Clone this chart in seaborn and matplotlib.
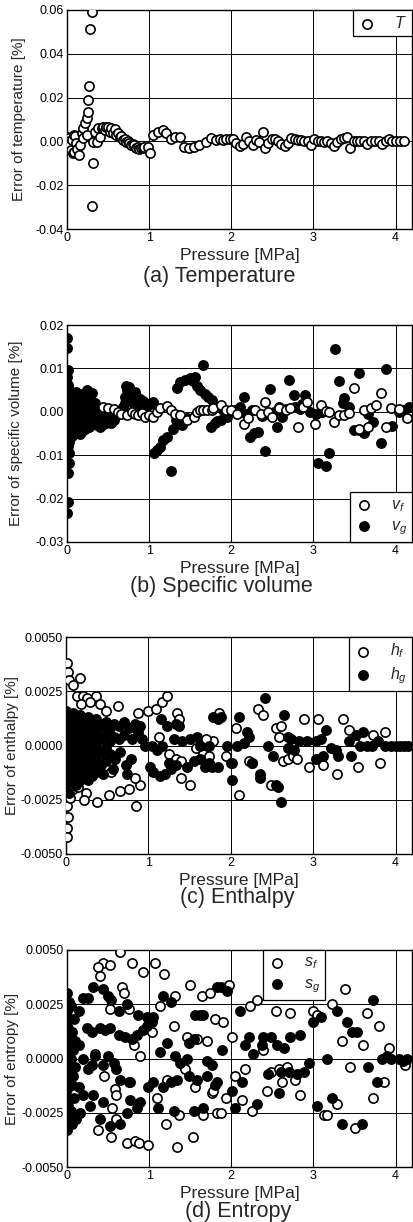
import matplotlib
matplotlib.use("Agg")
import matplotlib.pyplot as plt
import seaborn as sns

# (pressure [MPa], error [%])

temp_pts = [
    (0.00, 0.0020), (0.01, -0.0030), (0.02, 0.0014), (0.03, 0.0000), (0.04, -0.0017),
    (0.05, -0.0040), (0.06, 0.0007), (0.07, -0.0055), (0.08, 0.0029), (0.09, -0.0047),
    (0.10, 0.0025), (0.11, -0.0009), (0.12, -0.0035), (0.14, -0.0060), (0.16, -0.0017),
    (0.18, 0.0037), (0.20, 0.0014), (0.20, 0.0060), (0.22, 0.0082), (0.24, 0.0105),
    (0.24, 0.0029), (0.25, 0.0189), (0.26, 0.0135), (0.27, 0.0253), (0.28, 0.0513),
    (0.30, 0.0593), (0.31, -0.0293), (0.32, -0.0099), (0.32, -0.0002), (0.34, 0.0044),
    (0.36, -0.0002), (0.38, 0.0059), (0.40, 0.0022), (0.42, 0.0059), (0.44, 0.0065),
    (0.46, 0.0052), (0.48, 0.0068), (0.50, 0.0066), (0.52, 0.0044), (0.54, 0.0062),
    (0.56, 0.0037), (0.58, 0.0055), (0.60, 0.0029), (0.62, 0.0040), (0.64, 0.0022),
    (0.66, 0.0025), (0.68, 0.0007), (0.70, 0.0010), (0.72, -0.0002), (0.74, 0.0000),
    (0.76, -0.0009), (0.78, -0.0015), (0.80, -0.0010), (0.82, -0.0017), (0.84, -0.0028),
    (0.86, -0.0024), (0.88, -0.0035), (0.90, -0.0032), (0.92, -0.0030), (0.94, -0.0025),
    (0.99, -0.0024), (1.01, -0.0055), (1.05, 0.0029), (1.11, 0.0044), (1.17, 0.0052),
    (1.21, 0.0037), (1.26, 0.0010), (1.31, 0.0022), (1.37, 0.0022), (1.43, -0.0024),
    (1.49, -0.0032), (1.55, -0.0024), (1.61, -0.0017), (1.69, -0.0002), (1.75, 0.0014),
    (1.81, 0.0007), (1.86, 0.0010), (1.90, 0.0008), (1.94, 0.0010), (1.98, 0.0012),
    (2.02, 0.0010), (2.06, -0.0008), (2.10, -0.0020), (2.14, -0.0010), (2.18, 0.0020),
    (2.22, 0.0000), (2.26, -0.0018), (2.30, 0.0008), (2.34, -0.0005), (2.38, 0.0045),
    (2.41, -0.0030), (2.45, -0.0008), (2.49, 0.0010), (2.53, 0.0012), (2.57, 0.0002),
    (2.61, -0.0010), (2.65, -0.0020), (2.69, -0.0008), (2.73, 0.0015), (2.77, 0.0010),
    (2.81, 0.0005), (2.85, 0.0008), (2.89, 0.0003), (2.93, 0.0002), (2.97, -0.0018),
    (3.01, 0.0012), (3.05, 0.0003), (3.09, 0.0000), (3.13, -0.0005), (3.17, 0.0002),
    (3.21, -0.0008), (3.25, -0.0020), (3.29, -0.0002), (3.33, 0.0010), (3.37, 0.0015),
    (3.41, 0.0020), (3.45, -0.0030), (3.49, 0.0002), (3.53, 0.0003), (3.57, 0.0002),
    (3.61, 0.0003), (3.65, -0.0012), (3.70, 0.0000), (3.75, 0.0002), (3.80, 0.0001),
    (3.84, -0.0010), (3.88, 0.0002), (3.92, 0.0010), (3.96, 0.0000), (4.00, 0.0000),
    (4.05, 0.0001), (4.10, 0.0000),
]

vf_pts = [
    (0.44, 0.0010), (0.50, 0.0008), (0.57, 0.0006), (0.62, 0.0000), (0.66, -0.0004),
    (0.73, -0.0007), (0.79, 0.0000), (0.83, -0.0005), (0.87, -0.0007), (0.91, -0.0003),
    (0.95, -0.0011), (1.00, -0.0008), (1.05, -0.0011), (1.09, 0.0000), (1.13, 0.0008),
    (1.22, 0.0013), (1.26, 0.0004), (1.32, -0.0004), (1.38, -0.0007), (1.46, -0.0019),
    (1.54, -0.0011), (1.58, 0.0000), (1.62, 0.0004), (1.66, 0.0004), (1.70, 0.0004),
    (1.76, 0.0004), (1.78, 0.0008), (1.87, 0.0016), (1.93, 0.0004), (2.00, 0.0005),
    (2.07, -0.0004), (2.15, -0.0027), (2.20, -0.0015), (2.29, 0.0004), (2.36, -0.0004),
    (2.41, 0.0023), (2.45, 0.0000), (2.50, -0.0011), (2.58, 0.0008), (2.66, 0.0004),
    (2.72, 0.0008), (2.81, -0.0034), (2.87, 0.0010), (2.92, 0.0023), (3.02, -0.0027),
    (3.09, 0.0016), (3.15, 0.0002), (3.19, 0.0000), (3.25, -0.0023), (3.31, -0.0008),
    (3.37, -0.0008), (3.43, -0.0002), (3.49, 0.0054), (3.55, -0.0040), (3.61, 0.0004),
    (3.66, -0.0036), (3.70, 0.0008), (3.76, 0.0016), (3.82, 0.0043), (3.88, -0.0034),
    (3.94, 0.0008), (4.04, 0.0006), (4.14, -0.0015),
]

vg_pts = [
    (0.00, 0.0170), (0.00, 0.0147), (0.01, 0.0096), (0.00, 0.0080), (0.01, 0.0062),
    (0.00, 0.0045), (0.01, 0.0028), (0.00, 0.0010), (0.01, -0.0008), (0.00, -0.0025),
    (0.01, -0.0043), (0.00, -0.0060), (0.01, -0.0078), (0.02, -0.0095), (0.03, -0.0118),
    (0.01, -0.0141), (0.01, -0.0207), (0.00, -0.0233), (0.04, 0.0040), (0.05, 0.0020),
    (0.05, 0.0000), (0.04, -0.0020), (0.05, -0.0040), (0.06, -0.0055), (0.08, 0.0030),
    (0.09, 0.0010), (0.09, -0.0010), (0.10, -0.0030), (0.11, 0.0045), (0.12, -0.0045),
    (0.14, 0.0025), (0.15, 0.0005), (0.15, -0.0015), (0.16, -0.0052), (0.17, -0.0030),
    (0.18, 0.0040), (0.19, 0.0015), (0.21, -0.0005), (0.22, -0.0020), (0.22, -0.0040),
    (0.24, 0.0050), (0.24, 0.0030), (0.25, 0.0005), (0.26, -0.0015), (0.28, 0.0020),
    (0.29, -0.0025), (0.30, 0.0044), (0.31, 0.0010), (0.32, -0.0005), (0.34, 0.0020),
    (0.35, -0.0020), (0.37, -0.0030), (0.38, 0.0005), (0.40, -0.0034), (0.42, -0.0010),
    (0.45, 0.0000), (0.48, -0.0025), (0.52, -0.0015), (0.55, 0.0005), (0.58, -0.0010),
    (0.62, -0.0005), (0.65, -0.0003), (0.68, 0.0010), (0.71, 0.0034), (0.73, 0.0050),
    (0.75, 0.0057), (0.77, 0.0045), (0.79, 0.0046), (0.82, 0.0030), (0.85, 0.0034),
    (0.88, 0.0025), (0.91, 0.0019), (0.95, 0.0020), (0.98, 0.0015), (1.01, 0.0019),
    (0.03, 0.0030), (0.06, 0.0035), (0.07, 0.0015), (0.07, -0.0030), (0.10, 0.0000),
    (0.12, 0.0020), (0.13, -0.0020), (0.14, 0.0040), (0.17, 0.0030), (0.18, -0.0045),
    (0.20, 0.0025), (0.20, -0.0010), (0.23, 0.0010), (0.26, 0.0030), (0.27, -0.0035),
    (0.30, -0.0010), (0.33, 0.0000), (0.36, -0.0025), (0.39, -0.0015), (0.43, -0.0030),
    (0.46, -0.0020), (0.50, -0.0005), (0.54, -0.0025), (0.57, -0.0018), (0.60, 0.0000),
    (0.03, -0.0010), (0.02, 0.0050), (0.02, -0.0050), (0.03, -0.0070), (0.00, 0.0095),
    (0.72, 0.0060), (0.76, 0.0040), (0.80, 0.0020), (0.83, 0.0045), (0.86, 0.0015),
    (0.89, 0.0030), (0.93, 0.0025), (0.70, 0.0020),
    (1.05, 0.0023), (1.06, -0.0095), (1.10, -0.0088), (1.13, -0.0080), (1.17, -0.0065),
    (1.22, -0.0057), (1.26, -0.0136), (1.29, -0.0040), (1.33, -0.0020), (1.37, -0.0010),
    (1.40, -0.0030), (1.34, 0.0055), (1.38, 0.0068), (1.44, 0.0073), (1.46, -0.0015),
    (1.50, 0.0078), (1.53, 0.0070), (1.56, 0.0081), (1.58, 0.0060), (1.62, 0.0050),
    (1.66, 0.0108), (1.68, 0.0042), (1.72, 0.0035), (1.75, -0.0035), (1.76, 0.0028),
    (1.80, -0.0026), (1.83, -0.0022), (1.87, -0.0019), (1.90, 0.0005), (1.95, -0.0012),
    (2.00, 0.0000), (2.05, 0.0005), (2.11, 0.0012), (2.15, 0.0035), (2.18, -0.0005),
    (2.23, -0.0057), (2.25, 0.0005), (2.28, -0.0050), (2.33, -0.0047), (2.37, -0.0010),
    (2.41, -0.0090), (2.45, -0.0005), (2.47, 0.0052), (2.52, 0.0000), (2.56, -0.0034),
    (2.58, 0.0010), (2.62, -0.0011), (2.66, 0.0007), (2.70, 0.0073), (2.76, 0.0038),
    (2.78, 0.0012), (2.84, 0.0007), (2.86, 0.0018), (2.90, 0.0038), (2.96, 0.0000),
    (3.03, -0.0004), (3.06, -0.0119), (3.10, 0.0000), (3.15, -0.0126), (3.19, -0.0096),
    (3.26, 0.0144), (3.31, 0.0070), (3.36, 0.0020), (3.37, 0.0031), (3.43, 0.0012),
    (3.49, -0.0042), (3.55, -0.0042), (3.55, 0.0089), (3.61, -0.0050), (3.66, -0.0005),
    (3.73, -0.0023), (3.82, -0.0071), (3.88, 0.0098), (3.96, -0.0033), (4.04, 0.0000),
    (4.10, 0.0005), (4.16, 0.0012),
]

hf_pts = [
    (0.01, 0.0038), (0.02, 0.0034), (0.04, 0.0030), (0.17, 0.0031), (0.09, 0.0028),
    (0.13, 0.0023), (0.21, 0.0023), (0.25, 0.0022), (0.37, 0.0023), (0.18, 0.0019),
    (0.29, 0.0020), (0.41, 0.0019), (0.49, 0.0016), (0.63, 0.0018), (0.88, 0.0015),
    (1.00, 0.0016), (1.09, 0.0017), (1.17, 0.0020), (1.23, 0.0023), (1.35, 0.0015),
    (1.37, 0.0012), (1.13, 0.0004), (1.25, -0.0004), (1.33, -0.0006), (1.39, -0.0007),
    (1.39, -0.0015), (1.50, -0.0018), (1.58, -0.0001), (1.66, -0.0004), (1.78, 0.0002),
    (0.01, -0.0028), (0.02, -0.0033), (0.01, -0.0038), (0.01, -0.0042), (0.05, -0.0024),
    (0.09, -0.0020), (0.15, -0.0019), (0.24, -0.0022), (0.22, -0.0025), (0.38, -0.0026),
    (0.52, -0.0023), (0.66, -0.0021), (0.76, -0.0020), (0.90, -0.0018), (0.85, -0.0028),
    (0.84, -0.0015), (0.55, -0.0012), (0.41, -0.0007), (0.22, 0.0006), (0.39, 0.0005),
    (1.86, 0.0015), (2.06, 0.0008), (2.33, 0.0017), (2.39, 0.0014), (2.10, -0.0023),
    (2.55, 0.0008), (2.61, 0.0009), (2.59, 0.0004), (2.89, 0.0012), (3.06, 0.0012),
    (3.36, 0.0012), (3.43, 0.0007), (3.50, 0.0002), (3.73, 0.0005), (3.87, 0.0006),
    (2.95, -0.0010), (3.12, -0.0009), (3.29, -0.0013), (3.54, -0.0010), (3.81, -0.0008),
    (2.64, -0.0007), (2.69, -0.0006), (2.75, -0.0005), (2.81, -0.0006), (1.70, 0.0003),
    (1.74, -0.0005), (1.94, -0.0005), (2.02, -0.0008), (2.22, -0.0007), (2.26, -0.0008),
    (2.49, -0.0018),
]

hg_pts = [
    (0.00, 0.0016), (0.00, 0.0010), (0.00, 0.0004), (0.00, -0.0002), (0.00, -0.0008),
    (0.00, -0.0014), (0.00, -0.0020), (0.04, 0.0013), (0.04, 0.0007), (0.04, 0.0001),
    (0.04, -0.0005), (0.04, -0.0011), (0.04, -0.0017), (0.04, -0.0022), (0.08, 0.0015),
    (0.08, 0.0009), (0.08, 0.0003), (0.08, -0.0003), (0.08, -0.0009), (0.08, -0.0015),
    (0.12, 0.0012), (0.12, 0.0006), (0.12, 0.0000), (0.12, -0.0006), (0.12, -0.0012),
    (0.12, -0.0018), (0.17, 0.0014), (0.17, 0.0008), (0.17, 0.0002), (0.17, -0.0004),
    (0.17, -0.0010), (0.17, -0.0016), (0.22, 0.0011), (0.22, 0.0005), (0.22, -0.0001),
    (0.22, -0.0007), (0.22, -0.0013), (0.27, 0.0013), (0.27, 0.0007), (0.27, 0.0001),
    (0.27, -0.0005), (0.27, -0.0011), (0.27, -0.0016), (0.32, 0.0010), (0.32, 0.0004),
    (0.32, -0.0002), (0.32, -0.0008), (0.32, -0.0014), (0.37, 0.0012), (0.37, 0.0006),
    (0.37, 0.0000), (0.37, -0.0006), (0.37, -0.0012), (0.42, 0.0009), (0.42, 0.0003),
    (0.42, -0.0003), (0.42, -0.0009), (0.45, -0.0013), (0.48, 0.0011), (0.48, 0.0005),
    (0.48, -0.0001), (0.48, -0.0007), (0.53, 0.0008), (0.53, 0.0002), (0.53, -0.0004),
    (0.57, -0.0011), (0.58, 0.0010), (0.58, 0.0004), (0.60, -0.0006), (0.64, 0.0009),
    (0.64, 0.0003), (0.66, -0.0003), (0.70, 0.0011), (0.70, 0.0005), (0.73, -0.0009),
    (0.74, -0.0013), (0.76, 0.0008), (0.79, -0.0006), (0.80, 0.0003), (0.84, 0.0010),
    (0.88, 0.0006), (0.90, 0.0009), (0.92, 0.0003), (0.96, 0.0000), (1.02, -0.0010),
    (1.06, -0.0012), (1.14, -0.0014), (1.04, 0.0000), (1.10, -0.0002), (1.17, 0.0000),
    (1.15, 0.0012), (1.23, 0.0009), (1.33, 0.0010), (1.37, 0.0009), (1.20, -0.0013),
    (1.27, -0.0011), (1.31, 0.0003), (1.41, 0.0002), (1.51, 0.0003), (1.59, 0.0004),
    (1.25, -0.0008), (1.33, -0.0009), (1.47, -0.0010), (1.55, -0.0007), (1.63, -0.0006),
    (1.69, -0.0010), (1.74, -0.0008), (1.77, -0.0010), (1.84, -0.0010), (1.78, 0.0013),
    (1.84, 0.0012), (1.88, 0.0013), (1.63, 0.0000), (1.74, 0.0000), (1.96, 0.0000),
    (2.00, -0.0008), (2.01, -0.0016), (2.10, 0.0013), (2.08, 0.0000), (2.16, 0.0001),
    (2.20, 0.0006), (2.22, 0.0004), (2.26, -0.0008), (2.35, -0.0013), (2.36, -0.0015),
    (2.41, 0.0022), (2.45, 0.0000), (2.51, -0.0005), (2.55, -0.0018), (2.57, -0.0019),
    (2.61, -0.0026), (2.65, 0.0014), (2.69, 0.0004), (2.69, -0.0001), (2.77, -0.0002),
    (2.73, 0.0003), (2.83, 0.0002), (2.93, 0.0002), (3.04, 0.0002), (3.10, 0.0003),
    (3.04, -0.0006), (3.12, -0.0005), (3.16, 0.0007), (3.22, -0.0001), (3.28, -0.0002),
    (3.30, -0.0005), (3.44, 0.0002), (3.46, -0.0005), (3.52, 0.0005), (3.61, 0.0006),
    (3.57, 0.0000), (3.65, 0.0000), (3.71, 0.0000), (3.79, 0.0002), (3.87, 0.0000),
    (3.95, 0.0000), (4.00, 0.0000), (4.05, 0.0000), (4.10, 0.0000), (4.15, 0.0000),
]

sf_pts = [
    (0.65, 0.0049), (0.44, 0.0044), (0.38, 0.0042), (0.52, 0.0043), (0.40, 0.0038),
    (0.79, 0.0044), (0.92, 0.0040), (1.07, 0.0044), (1.18, 0.0039), (0.67, 0.0033),
    (0.69, 0.0030), (0.52, 0.0023), (0.75, 0.0023), (1.13, 0.0024), (1.32, 0.0029),
    (1.50, 0.0034), (1.64, 0.0029), (1.74, 0.0030), (0.81, 0.0006), (0.89, 0.0001),
    (1.03, 0.0012), (1.30, 0.0015), (1.46, 0.0010), (1.58, 0.0009), (1.80, 0.0018),
    (0.34, 0.0002), (0.45, -0.0008), (0.59, -0.0014), (0.77, -0.0011), (0.60, -0.0017),
    (0.55, -0.0023), (0.60, -0.0028), (0.38, -0.0033), (0.54, -0.0036), (0.73, -0.0039),
    (0.83, -0.0038), (0.88, -0.0039), (0.99, -0.0040), (1.09, -0.0018), (1.22, -0.0010),
    (1.21, -0.0030), (1.36, -0.0026), (1.53, -0.0036), (1.34, -0.0041), (1.56, -0.0013),
    (1.76, -0.0016), (1.66, -0.0026), (1.83, -0.0025), (1.44, -0.0005), (1.97, 0.0034),
    (1.90, 0.0017), (2.01, 0.0010), (2.23, 0.0024), (2.31, 0.0027), (2.54, 0.0022),
    (2.72, 0.0021), (3.00, 0.0022), (3.04, 0.0020), (3.23, 0.0025), (3.39, 0.0032),
    (3.65, 0.0021), (3.80, 0.0015), (3.35, 0.0008), (3.60, 0.0006), (3.92, 0.0005),
    (2.39, 0.0004), (1.70, 0.0008), (3.45, -0.0004), (4.12, -0.0003), (2.05, -0.0008),
    (2.17, -0.0005), (2.48, -0.0006), (2.58, -0.0005), (2.68, -0.0004), (2.62, -0.0011),
    (2.78, -0.0010), (2.84, -0.0017), (2.43, -0.0015), (1.78, -0.0015), (1.93, -0.0018),
    (2.13, -0.0019), (1.87, -0.0025), (2.25, -0.0024), (3.13, -0.0026), (3.17, -0.0026),
    (3.29, -0.0021), (3.72, -0.0018), (3.86, -0.0011), (3.51, -0.0032),
]

sg_pts = [
    (0.00, 0.0030), (0.02, 0.0026), (0.00, 0.0022), (0.03, 0.0018), (0.01, 0.0014),
    (0.00, 0.0010), (0.03, 0.0006), (0.01, 0.0002), (0.00, -0.0002), (0.03, -0.0006),
    (0.01, -0.0010), (0.00, -0.0014), (0.03, -0.0018), (0.01, -0.0022), (0.00, -0.0026),
    (0.02, -0.0030), (0.00, -0.0033), (0.05, 0.0024), (0.06, 0.0012), (0.05, 0.0000),
    (0.06, -0.0012), (0.05, -0.0024), (0.07, 0.0004), (0.07, -0.0008), (0.06, -0.0030),
    (0.08, 0.0018), (0.09, -0.0018), (0.10, 0.0008), (0.10, -0.0004), (0.11, -0.0028),
    (0.15, 0.0022), (0.20, 0.0028), (0.26, 0.0028), (0.32, 0.0033), (0.44, 0.0032),
    (0.50, 0.0029), (0.53, 0.0027), (0.63, 0.0022), (0.73, 0.0025), (0.87, 0.0020),
    (0.97, 0.0019), (1.05, 0.0019), (1.17, 0.0029), (1.26, 0.0026), (1.56, 0.0020),
    (1.62, 0.0020), (1.83, 0.0033), (0.15, 0.0006), (0.20, 0.0000), (0.24, 0.0014),
    (0.30, 0.0012), (0.40, 0.0014), (0.46, 0.0013), (0.52, 0.0014), (0.63, 0.0011),
    (0.70, 0.0010), (0.79, 0.0009), (0.85, 0.0011), (0.93, 0.0013), (0.97, 0.0015),
    (1.03, 0.0017), (1.13, 0.0003), (1.22, 0.0007), (1.32, 0.0001), (1.38, -0.0002),
    (1.46, 0.0000), (1.48, 0.0007), (1.54, 0.0009), (1.70, -0.0001), (1.76, -0.0003),
    (0.34, 0.0001), (0.50, 0.0001), (0.57, -0.0002), (0.44, -0.0003), (0.25, -0.0005),
    (0.30, -0.0003), (0.60, -0.0005), (0.14, -0.0013), (0.20, -0.0017), (0.32, -0.0017),
    (0.44, -0.0020), (0.65, -0.0010), (0.75, -0.0011), (0.77, -0.0019), (0.89, -0.0020),
    (0.99, -0.0013), (1.05, -0.0011), (0.40, -0.0028), (0.52, -0.0031), (0.65, -0.0030),
    (0.73, -0.0025), (0.85, -0.0023), (1.11, -0.0023), (1.30, -0.0024), (1.54, -0.0024),
    (1.66, -0.0023), (1.17, -0.0013), (1.26, -0.0011), (1.34, -0.0010), (1.48, -0.0008),
    (1.58, -0.0010), (1.70, -0.0008), (1.82, -0.0011), (0.16, -0.0025), (0.28, -0.0022),
    (1.66, 0.0020), (1.87, 0.0033), (1.95, 0.0031), (1.89, 0.0004), (2.10, 0.0022),
    (2.21, 0.0010), (2.17, 0.0006), (2.27, 0.0002), (2.37, 0.0006), (2.39, 0.0010),
    (2.48, 0.0010), (2.56, 0.0006), (2.64, 0.0005), (2.72, 0.0010), (2.84, 0.0011),
    (2.45, -0.0007), (2.60, -0.0006), (2.70, -0.0006), (2.80, -0.0007), (2.88, -0.0006),
    (2.94, -0.0002), (2.58, -0.0016), (2.31, -0.0021), (1.80, -0.0012), (2.01, -0.0015),
    (2.05, -0.0023), (2.13, -0.0011), (3.00, 0.0017), (3.09, 0.0019), (3.29, 0.0022),
    (3.17, 0.0000), (3.04, -0.0022), (3.23, -0.0018), (3.35, -0.0030), (3.41, 0.0017),
    (3.47, 0.0012), (3.53, 0.0012), (3.72, 0.0027), (3.66, -0.0004), (3.78, -0.0011),
    (3.59, -0.0030), (3.84, 0.0000), (3.90, 0.0001), (3.94, 0.0000), (4.04, 0.0000),
    (4.09, -0.0001), (4.14, 0.0000),
]

sns.set_style("ticks")
plt.rcParams["font.family"] = ["Liberation Sans", "DejaVu Sans"]
plt.rcParams["mathtext.fontset"] = "custom"
plt.rcParams["mathtext.it"] = "Liberation Sans:italic"
plt.rcParams["mathtext.rm"] = "Liberation Sans"

W, H = 413, 1222
fig = plt.figure(figsize=(W / 100, H / 100), dpi=100)


def add_panel(left, top, right, bottom):
    return fig.add_axes([left / W, 1 - bottom / H, (right - left) / W, (bottom - top) / H])


def dots(ax, pts, filled, label):
    xs = [p for p, _ in pts]
    ys = [e for _, e in pts]
    sns.scatterplot(x=xs, y=ys, ax=ax, s=44, marker="o",
                    color="black" if filled else "white",
                    edgecolor="black", linewidth=1.2, label=label, zorder=3)


def style(ax, yticks, ylabels, ylabel, ylab_x):
    ax.set_xlim(0, 4.2)
    ax.set_ylim(yticks[0], yticks[-1])
    ax.set_xticks([0, 1, 2, 3, 4])
    ax.set_xticklabels(["0", "1", "2", "3", "4"])
    ax.set_yticks(yticks)
    ax.set_yticklabels(ylabels)
    ax.tick_params(direction="in", length=3, width=0.8, labelsize=9, pad=2, colors="black")
    ax.grid(True, color="black", linewidth=0.7)
    ax.set_axisbelow(True)
    for sp in ax.spines.values():
        sp.set_color("black")
        sp.set_linewidth(1.0)
    ax.set_xlabel("Pressure [MPa]", fontsize=12.5, labelpad=3)
    ax.set_ylabel(ylabel, fontsize=11)
    ax.yaxis.set_label_coords(ylab_x, 0.5)


def legend(ax, order, **kw):
    h, l = ax.get_legend_handles_labels()
    hd = dict(zip(l, h))
    leg = ax.legend([hd[k] for k in order], order, frameon=True, fancybox=False,
                    edgecolor="black", framealpha=1, fontsize=11.5, borderaxespad=0,
                    handletextpad=1.1, borderpad=0.3, labelspacing=0.3,
                    handlelength=1.2, **kw)
    leg.get_frame().set_linewidth(0.9)


small = [-0.005, -0.0025, 0.0, 0.0025, 0.005]
small_lab = ["-0.0050", "-0.0025", "0.0000", "0.0025", "0.0050"]

# (a) temperature
ax = add_panel(67, 10, 412, 229)
dots(ax, temp_pts, False, "$T$")
style(ax, [-0.04, -0.02, 0.0, 0.02, 0.04, 0.06],
      ["-0.04", "-0.02", "0.00", "0.02", "0.04", "0.06"],
      "Error of temperature [%]", -0.12)
legend(ax, ["$T$"], loc="upper right", bbox_to_anchor=(1, 1))
fig.text(219 / W, 1 - 276 / H, "(a) Temperature", ha="center", va="center", fontsize=15.5)

# (b) specific volume
ax = add_panel(67, 325, 412, 542)
dots(ax, vg_pts, True, "$v_g$")
dots(ax, vf_pts, False, "$v_f$")
style(ax, [-0.03, -0.02, -0.01, 0.0, 0.01, 0.02],
      ["-0.03", "-0.02", "-0.01", "0.00", "0.01", "0.02"],
      "Error of specific volume [%]", -0.128)
legend(ax, ["$v_f$", "$v_g$"], loc="lower right", bbox_to_anchor=(1, 0))
fig.text(221 / W, 1 - 587 / H, "(b) Specific volume", ha="center", va="center", fontsize=15.5)

# (c) enthalpy
ax = add_panel(66, 637, 412, 854)
dots(ax, hf_pts, False, "$h_f$")
dots(ax, hg_pts, True, "$h_g$")
style(ax, small, small_lab, "Error of enthalpy [%]", -0.135)
legend(ax, ["$h_f$", "$h_g$"], loc="upper right", bbox_to_anchor=(1, 1))
fig.text(237 / W, 1 - 898 / H, "(c) Enthalpy", ha="center", va="center", fontsize=15.5)

# (d) entropy
ax = add_panel(67, 950, 412, 1167)
dots(ax, sf_pts, False, "$s_f$")
dots(ax, sg_pts, True, "$s_g$")
style(ax, small, small_lab, "Error of entropy [%]", -0.138)
legend(ax, ["$s_f$", "$s_g$"], loc="upper left", bbox_to_anchor=(0.568, 1))
fig.text(238 / W, 1 - 1212 / H, "(d) Entropy", ha="center", va="center", fontsize=15.5)

fig.savefig("out.png", dpi=100)
